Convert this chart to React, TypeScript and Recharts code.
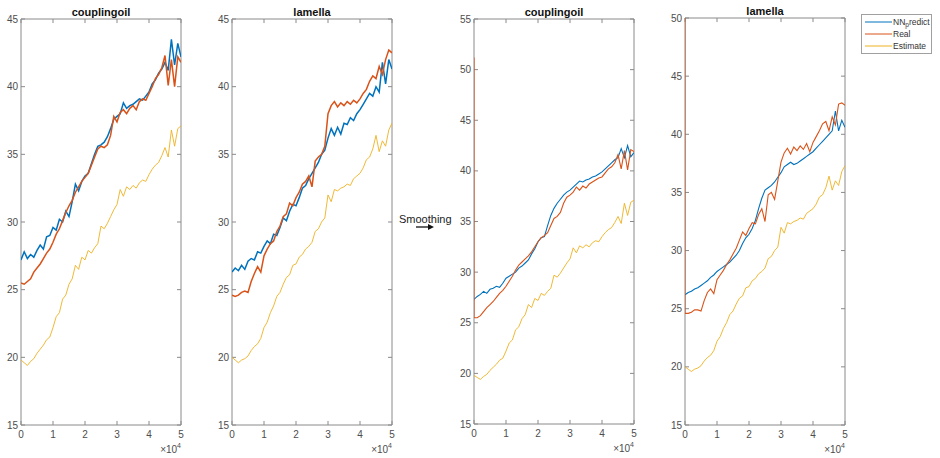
import { LineChart, Line, XAxis, YAxis, ReferenceArea, ReferenceLine, Label } from 'recharts';

const COLORS = {
  nn: '#0072BD',
  real: '#D95319',
  estimate: '#EDB120',
  axis: '#8a8a8a',
  text: '#4d4d4d',
};

const seriesNames = ['NN_predict', 'Real', 'Estimate'];

const xs = [
  0, 1000, 2000, 3000, 4000, 5000, 6000, 7000, 8000, 9000, 10000, 11000, 12000, 13000, 14000, 15000, 16000,
  17000, 18000, 19000, 20000, 21000, 22000, 23000, 24000, 25000, 26000, 27000, 28000, 29000, 30000, 31000,
  32000, 33000, 34000, 35000, 36000, 37000, 38000, 39000, 40000, 41000, 42000, 43000, 44000, 45000, 46000,
  47000, 48000, 49000, 50000,
];
const xTicks = [0, 10000, 20000, 30000, 40000, 50000];
const rawYTicks = [15, 20, 25, 30, 35, 40, 45];
const smoothCouplingYTicks = [15, 20, 25, 30, 35, 40, 45, 50, 55];
const smoothLamellaYTicks = [15, 20, 25, 30, 35, 40, 45, 50];

// couplingoil, raw
const couplingNN = [
  27.2, 27.8, 27.3, 27.6, 27.4, 27.9, 28.3, 28.0, 28.9, 29.0, 29.6, 29.4, 30.2, 30.0, 30.8, 30.4, 31.5,
  32.8, 32.3, 33.0, 33.4, 33.6, 34.3, 35.0, 35.6, 35.7, 35.9, 36.3, 36.9, 37.6, 37.8, 38.0, 38.8, 38.4,
  38.6, 38.7, 38.9, 39.1, 39.0, 39.3, 39.6, 40.2, 40.5, 41.0, 41.3, 41.8, 41.2, 43.5, 41.6, 43.2, 42.2,
];
const couplingReal = [
  25.5, 25.4, 25.6, 25.8, 26.3, 26.6, 26.9, 27.3, 27.7, 28.0, 28.5, 29.1, 29.5, 30.1, 30.7, 31.2, 31.6,
  32.2, 32.6, 33.0, 33.3, 33.6, 34.2, 34.8, 35.4, 35.6, 35.5, 35.7, 36.4, 37.8, 37.4, 38.1, 38.3, 38.0,
  38.4, 38.6, 38.3, 38.9, 39.1, 39.0, 39.5, 40.0, 40.6, 40.9, 41.4, 42.3, 40.1, 42.0, 40.0, 42.2, 41.8,
];
const couplingEstimate = [
  19.8, 19.6, 19.4, 19.7, 19.9, 20.3, 20.6, 20.9, 21.3, 21.5, 22.2, 23.0, 23.3, 24.3, 24.6, 25.4, 25.8,
  26.8, 26.5, 27.4, 27.2, 27.9, 27.7, 28.1, 28.4, 29.7, 29.5, 29.9, 30.4, 30.9, 31.3, 32.4, 31.9, 32.6,
  32.4, 32.7, 32.5, 32.9, 33.1, 33.0, 33.5, 33.9, 34.2, 34.4, 34.9, 35.5, 34.8, 36.8, 35.6, 36.9, 37.1,
];

// lamella, raw
const lamellaNN = [
  26.3, 26.6, 26.4, 26.8, 26.5, 27.1, 27.3, 27.2, 27.8, 27.7, 28.2, 28.6, 28.4, 29.1, 29.0, 29.6, 30.3,
  30.1, 30.8, 31.3, 31.2, 31.8, 32.5, 32.7, 33.2, 33.6, 34.0, 34.4, 35.0, 35.3, 36.2, 36.9, 36.4, 37.0,
  36.5, 37.3, 37.2, 37.7, 37.5, 38.0, 38.3, 38.7, 39.1, 39.5, 39.3, 40.0, 39.6, 41.8, 40.2, 42.0, 41.3,
];
const lamellaReal = [
  24.6, 24.5, 24.6, 24.8, 24.9, 24.8, 25.6, 26.2, 26.7, 26.3, 27.5, 28.0, 28.4, 28.6, 29.3, 29.7, 30.4,
  30.6, 31.4, 31.2, 31.8, 32.2, 32.8, 33.0, 33.4, 32.6, 34.5, 34.8, 35.0, 35.6, 38.0, 38.6, 38.9, 38.5,
  38.8, 38.6, 38.9, 38.7, 39.0, 38.8, 39.1, 39.5, 39.8, 40.4, 40.8, 40.6, 41.5, 40.9, 42.0, 42.7, 42.5,
];
const lamellaEstimate = [
  20.0, 19.8, 19.6, 19.8, 19.9, 20.1, 20.5, 20.8, 21.0, 21.4, 22.2, 22.6, 23.3, 23.8, 24.5, 24.8, 25.4,
  25.9, 26.1, 26.8, 26.9, 27.4, 27.6, 28.0, 28.2, 28.5, 29.3, 29.5, 30.0, 30.3, 32.0, 31.5, 32.4, 32.3,
  32.5, 32.6, 32.8, 32.7, 33.2, 33.4, 33.6, 34.0, 34.6, 34.8, 35.4, 36.4, 35.2, 36.0, 35.6, 36.8, 37.3,
];

// couplingoil, smoothed
const smoothCouplingNN = [
  27.3, 27.6, 27.8, 28.1, 27.9, 28.3, 28.4, 28.6, 28.5, 28.9, 29.4, 29.6, 29.8, 30.0, 30.4, 30.6, 30.9,
  31.2, 31.8, 32.3, 33.0, 33.4, 33.5, 34.6, 35.6, 36.3, 36.8, 37.2, 37.6, 37.9, 38.1, 38.4, 38.7, 39.0,
  38.9, 39.1, 39.2, 39.4, 39.5, 39.7, 39.9, 40.2, 40.5, 40.8, 41.1, 41.3, 42.2, 41.3, 42.5, 41.4, 41.8,
];
const smoothCouplingRealStart = 51.2;
const smoothCouplingReal = [
  25.5, 25.5, 25.7, 26.1, 26.5, 26.8, 27.1, 27.5, 27.9, 28.2, 28.6, 29.1, 29.6, 30.2, 30.7, 31.0, 31.3,
  31.6, 32.0, 32.5, 33.0, 33.4, 33.6, 33.9, 34.6, 35.3, 35.5, 35.9, 36.8, 37.4, 37.6, 37.9, 38.4, 38.1,
  38.5, 38.3, 38.7, 38.9, 39.1, 39.3, 39.4, 39.8, 40.2, 40.4, 40.8, 41.6, 40.2, 42.0, 40.1, 42.1, 41.9,
];

// lamella, smoothed
const smoothLamellaNN = [
  26.2, 26.4, 26.5, 26.7, 26.8, 27.0, 27.2, 27.4, 27.7, 27.9, 28.2, 28.4, 28.6, 28.8, 29.0, 29.3, 29.6,
  30.0, 30.6, 31.1, 31.4, 31.9, 32.6, 33.6, 34.5, 35.2, 35.4, 35.6, 35.9, 36.3, 36.7, 37.2, 37.4, 37.6,
  37.4, 37.5, 37.7, 37.9, 38.1, 38.3, 38.5, 38.8, 39.1, 39.4, 39.7, 40.0, 40.3, 42.0, 40.3, 41.2, 40.6,
];
const smoothLamellaRealStart = 50.0;
const smoothLamellaReal = [
  24.6, 24.6, 24.7, 24.9, 24.9, 24.8, 25.7, 26.4, 26.7, 26.3, 27.5, 27.9, 28.3, 28.8, 29.2, 29.7, 30.2,
  30.9, 31.6, 31.3, 31.9, 32.4, 32.3, 33.1, 33.6, 32.5, 34.8, 35.0, 34.4, 36.0, 37.6, 38.4, 38.8, 38.3,
  38.9, 38.6, 39.0, 38.7, 39.2, 38.5, 39.3, 39.8, 40.3, 40.9, 41.1, 40.3, 41.5, 40.8, 42.6, 42.7, 42.5,
];

const PLOT_W = 160;
const Y_AXIS_W = 28;
const CHART_H = 458;

const toPoints = (vals: number[], start?: number) => {
  const pts = xs.map((x, i) => ({ x, y: vals[i] }));
  return start === undefined ? pts : [{ x: 0, y: start }, ...pts];
};

interface PanelProps {
  title: string;
  left: number;
  top: number;
  bottom: number;
  yTicks: number[];
  nn: number[];
  real: number[];
  realStart?: number;
  estimate: number[];
  strokeWidth: number;
}

function Panel({ title, left, top, bottom, yTicks, nn, real, realStart, estimate, strokeWidth }: PanelProps) {
  const yMin = yTicks[0];
  const yMax = yTicks[yTicks.length - 1];
  const tickY = (yMax - yMin) * 0.01;
  const tickX = 50000 * (4 / PLOT_W);
  const lines = [
    { key: 'nn', color: COLORS.nn, width: strokeWidth, data: toPoints(nn) },
    { key: 'real', color: COLORS.real, width: strokeWidth, data: toPoints(real, realStart) },
    { key: 'est', color: COLORS.estimate, width: 0.9, data: toPoints(estimate) },
  ];

  return (
    <>
      <div
        style={{
          position: 'absolute',
          left,
          top: top - 13,
          width: PLOT_W,
          textAlign: 'center',
          fontWeight: 'bold',
          fontSize: 11,
          color: '#111',
        }}
      >
        {title}
      </div>
      <div style={{ position: 'absolute', left: left - Y_AXIS_W, top: 0 }}>
        <LineChart
          width={Y_AXIS_W + PLOT_W + 6}
          height={CHART_H}
          margin={{ top, right: 6, left: 0, bottom: 0 }}
        >
          <XAxis
            dataKey='x'
            type='number'
            domain={[0, 50000]}
            ticks={xTicks}
            tickFormatter={(v) => String(v / 10000)}
            height={CHART_H - bottom}
            axisLine={false}
            tickLine={false}
            tickSize={0}
            tickMargin={6}
            tick={{ fill: COLORS.text, fontSize: 10 }}
            allowDataOverflow
          >
            <Label
              content={(props: any) => {
                const vb = props.viewBox || {};
                return (
                  <text
                    x={(vb.x ?? 0) + (vb.width ?? 0)}
                    y={(vb.y ?? 0) + 28}
                    textAnchor='end'
                    fill={COLORS.text}
                    fontSize={10}
                  >
                    ×10
                    <tspan dy={-5} fontSize={7}>
                      4
                    </tspan>
                  </text>
                );
              }}
            />
          </XAxis>
          <YAxis
            type='number'
            domain={[yMin, yMax]}
            ticks={yTicks}
            width={Y_AXIS_W}
            axisLine={false}
            tickLine={false}
            tickSize={0}
            tickMargin={3}
            tick={{ fill: COLORS.text, fontSize: 10 }}
            allowDataOverflow
          />
          {xTicks.map((t) => (
            <ReferenceLine
              key={`xb-${t}`}
              segment={[{ x: t, y: yMin }, { x: t, y: yMin + tickY }]}
              stroke={COLORS.axis}
            />
          ))}
          {xTicks.map((t) => (
            <ReferenceLine
              key={`xt-${t}`}
              segment={[{ x: t, y: yMax }, { x: t, y: yMax - tickY }]}
              stroke={COLORS.axis}
            />
          ))}
          {yTicks.map((t) => (
            <ReferenceLine
              key={`yl-${t}`}
              segment={[{ x: 0, y: t }, { x: tickX, y: t }]}
              stroke={COLORS.axis}
            />
          ))}
          {yTicks.map((t) => (
            <ReferenceLine
              key={`yr-${t}`}
              segment={[{ x: 50000, y: t }, { x: 50000 - tickX, y: t }]}
              stroke={COLORS.axis}
            />
          ))}
          <ReferenceArea
            x1={0}
            x2={50000}
            y1={yMin}
            y2={yMax}
            fill='none'
            fillOpacity={0}
            stroke={COLORS.axis}
            strokeWidth={1}
          />
          {lines.map((l) => (
            <Line
              key={l.key}
              data={l.data}
              dataKey='y'
              type='linear'
              stroke={l.color}
              strokeWidth={l.width}
              dot={false}
              activeDot={false}
              isAnimationActive={false}
            />
          ))}
        </LineChart>
      </div>
    </>
  );
}

function LegendBox() {
  const colors = [COLORS.nn, COLORS.real, COLORS.estimate];
  return (
    <div
      style={{
        position: 'absolute',
        left: 861,
        top: 14,
        width: 69,
        height: 38,
        border: '1px solid #a0a0a0',
        background: '#fff',
      }}
    >
      <svg width={69} height={38}>
        {seriesNames.map((name, i) => {
          const y = 7 + i * 12;
          return (
            <g key={name}>
              <line x1={3} x2={30} y1={y} y2={y} stroke={colors[i]} strokeWidth={1} />
              <text x={31} y={y + 3} fontSize={8.5} fill='#333'>
                {name === 'NN_predict' ? (
                  <>
                    NN
                    <tspan dy={2} fontSize={6.5}>
                      p
                    </tspan>
                    <tspan dy={-2}>redict</tspan>
                  </>
                ) : (
                  name
                )}
              </text>
            </g>
          );
        })}
      </svg>
    </div>
  );
}

export default function App() {
  return (
    <div
      style={{
        position: 'absolute',
        left: 0,
        top: 0,
        width: 940,
        height: 458,
        background: '#fff',
        fontFamily: '"Liberation Sans", Arial, sans-serif',
        overflow: 'hidden',
      }}
    >
      <Panel
        title='couplingoil'
        left={21}
        top={19}
        bottom={425}
        yTicks={rawYTicks}
        nn={couplingNN}
        real={couplingReal}
        estimate={couplingEstimate}
        strokeWidth={1.5}
      />
      <Panel
        title='lamella'
        left={232}
        top={19}
        bottom={425}
        yTicks={rawYTicks}
        nn={lamellaNN}
        real={lamellaReal}
        estimate={lamellaEstimate}
        strokeWidth={1.5}
      />
      <Panel
        title='couplingoil'
        left={474}
        top={19}
        bottom={424}
        yTicks={smoothCouplingYTicks}
        nn={smoothCouplingNN}
        real={smoothCouplingReal}
        realStart={smoothCouplingRealStart}
        estimate={couplingEstimate}
        strokeWidth={1.1}
      />
      <Panel
        title='lamella'
        left={685}
        top={18}
        bottom={425}
        yTicks={smoothLamellaYTicks}
        nn={smoothLamellaNN}
        real={smoothLamellaReal}
        realStart={smoothLamellaRealStart}
        estimate={lamellaEstimate}
        strokeWidth={1.1}
      />
      <div
        style={{
          position: 'absolute',
          left: 399,
          top: 213,
          fontSize: 11,
          color: '#222',
        }}
      >
        Smoothing
      </div>
      <svg style={{ position: 'absolute', left: 414, top: 222 }} width={22} height={10}>
        <line x1={2} x2={15} y1={5} y2={5} stroke='#111' strokeWidth={1.3} />
        <polygon points='14,2 20,5 14,8' fill='#111' />
      </svg>
      <LegendBox />
    </div>
  );
}
